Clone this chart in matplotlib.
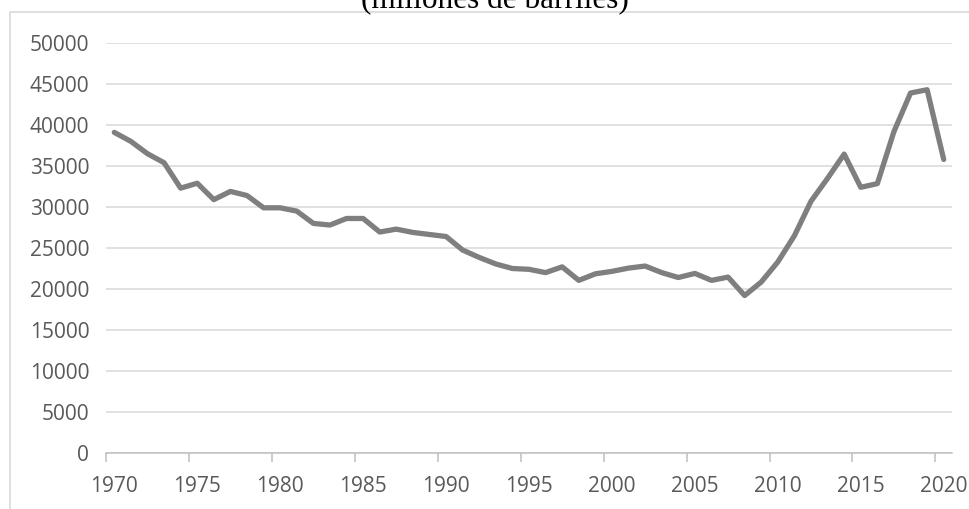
import numpy as np
import matplotlib.pyplot as plt
from matplotlib.patches import Rectangle

# Data (millones de barriles)
years = list(range(1970, 2021))
values = [39100, 38000, 36500, 35400, 32300, 32900, 30900, 31900, 31400, 29900,
          29900, 29500, 28000, 27800, 28600, 28600, 26950, 27300, 26900, 26650,
          26400, 24750, 23850, 23050, 22500, 22400, 22000, 22700, 21050, 21850,
          22150, 22550, 22800, 22000, 21400, 21900, 21050, 21450, 19200, 20850,
          23300, 26500, 30700, 33500, 36450, 32400, 32850, 39200, 43900, 44300,
          35800]
yticks = list(range(0, 50001, 5000))
xlabel_years = list(range(1970, 2021, 5))
title = "(millones de barriles)"

W, H = 970, 509
fig = plt.figure(figsize=(W / 100, H / 100), dpi=100)

# light grey chart-area border (cut by the image edges)
fig.patches.append(Rectangle((10 / W, -0.1), 1.0, 1.1 - 12 / H, transform=fig.transFigure,
                             fill=False, edgecolor='#d9d9d9', linewidth=1.2))

fig.text(495 / W, 1 - 8 / H, title, ha='center', va='baseline',
         family='Liberation Serif', fontsize=22.5, color='black')

ax = fig.add_axes([106 / W, 1 - 453 / H, (952 - 106) / W, (453 - 43) / H])
ax.plot(years, values, color='#7f7f7f', linewidth=3.8,
        solid_joinstyle='round', solid_capstyle='round')

ax.set_xlim(1969.5, 2020.5)
ax.set_ylim(0, 50000)

ax.set_yticks(yticks)
ax.set_yticklabels([str(v) for v in yticks])
ax.grid(axis='y', color='#d9d9d9', linewidth=1.1)
ax.set_axisbelow(True)

# ticks sit on category boundaries, labels under the categories
ax.set_xticks([y - 0.5 for y in xlabel_years])
ax.set_xticklabels([])
ax.set_xticks(xlabel_years, minor=True)
ax.set_xticklabels([str(y) for y in xlabel_years], minor=True)
ax.tick_params(axis='x', which='major', length=6.5, width=1.1, color='#bfbfbf')
ax.tick_params(axis='x', which='minor', length=0, pad=16.5)
ax.tick_params(axis='y', length=0, pad=12)
for lab in ax.get_xticklabels(minor=True) + ax.get_yticklabels():
    lab.set_family('Open Sans')
    lab.set_fontsize(15)
    lab.set_color('#595959')

for side in ['top', 'right', 'left']:
    ax.spines[side].set_visible(False)
ax.spines['bottom'].set_color('#bfbfbf')
ax.spines['bottom'].set_linewidth(1.1)

fig.savefig('out.png', dpi=100)
